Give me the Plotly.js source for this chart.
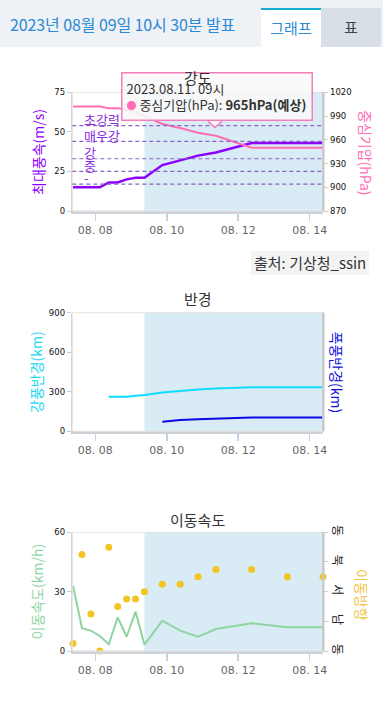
<!DOCTYPE html>
<html>
<head>
<meta charset="utf-8">
<script src="https://cdn.plot.ly/plotly-3.0.1.min.js"></script>
<style>
  html, body { margin: 0; padding: 0; background: #ffffff; width: 383px; height: 711px; overflow: hidden; }
  #chart { position: absolute; left: 0; top: 0; width: 383px; height: 711px; }
  #header { position: absolute; left: 0; top: 0; width: 383px; height: 47px; background: #eef1f6; z-index: 5;
            font-family: "Noto Sans CJK KR", "Noto Sans", sans-serif; }
  #htitle { position: absolute; left: 10px; top: 12px; font-size: 16px; color: #2b8ad3; white-space: nowrap; letter-spacing: -0.1px; }
  #tab1 { position: absolute; left: 261px; top: 8px; width: 60px; height: 39px; background: #ffffff; border-top: 2px solid #17aed0;
          box-sizing: border-box; text-align: center; line-height: 36px; font-size: 15px; color: #2b8ad3; }
  #tab2 { position: absolute; left: 321px; top: 8px; width: 60px; height: 39px; background: #d9dfe7;
          box-sizing: border-box; text-align: center; line-height: 38px; font-size: 15px; color: #444; }
  #source { position: absolute; left: 251px; top: 251px; padding: 0 3px; height: 24px; line-height: 24px; background: #f3f3f3;
            font-family: "Noto Sans CJK KR", sans-serif; font-size: 15px; color: #333; z-index: 5; white-space: nowrap; }
</style>
</head>
<body>
<div id="chart"></div>
<div id="header">
  <div id="htitle">2023년 08월 09일 10시 30분 발표</div>
  <div id="tab1">그래프</div>
  <div id="tab2">표</div>
</div>
<div id="source">출처: 기상청_ssin</div>
<script>
// ---- data ----
const times = ['2023-08-07 09:00','2023-08-07 15:00','2023-08-07 21:00','2023-08-08 03:00',
               '2023-08-08 09:00','2023-08-08 15:00','2023-08-08 21:00','2023-08-09 03:00',
               '2023-08-09 09:00','2023-08-09 21:00','2023-08-10 09:00','2023-08-10 21:00',
               '2023-08-11 09:00','2023-08-12 09:00','2023-08-13 09:00','2023-08-14 09:00'];
const windSpeed = [15,15,15,15,18,18,20,21,21,29,32,35,37,43,43,43];
const pressure  = [1002,1002,1002,1002,1000,1000,998,995,990,980,975,969,965,950,950,950];
const galeRadius  = [null,null,null,null,262,262,262,270,275,295,308,318,325,334,334,334];
const stormRadius = [null,null,null,null,null,null,null,null,null,73,86,91,96,104,104,104];
const moveSpeed = [33,11.5,10.3,7.6,3.4,17,7.2,19.9,3.2,15.3,10.3,7.2,11.1,14,12,12];
const moveDir   = [22.5,292.5,112.5,0,315,135,157.5,157.5,180,202.5,202.5,225,247.5,247.5,225,225];

const intensityLevels = [17,25,33,44,54];
const intensityLabels = ['-','중','강','매우강','초강력'];

const xTickVals = ['2023-08-08','2023-08-10','2023-08-12','2023-08-14'];
const xTickText = ['08. 08','08. 10','08. 12','08. 14'];
const dirTickVals = [0,90,180,270,360];
const dirTickText = ['동','남','서','북','동'];
const forecastStart = '2023-08-09 09:00';
const xRange = ['2023-08-07 08:30','2023-08-14 09:10'];

const tooltipTime = '2023.08.11. 09시';
const tooltipLabel = '중심기압(hPa)';
const tooltipValue = '965hPa(예상)';

// ---- helpers (page pixel -> paper) ----
const W = 383, H = 711;
const px = v => v / W;
const py = v => 1 - v / H;
const KR = '"Noto Sans CJK KR", "Noto Sans", sans-serif';
const NUM = '"DejaVu Sans", sans-serif';

const xDom = [px(72.3), px(323.3)];
const dom1 = [py(211), py(92.3)];
const dom2 = [py(431.3), py(312.7)];
const dom3 = [py(651), py(532.3)];

function xAxis(anchor) {
  return {
    domain: xDom, anchor: anchor, type: 'date', range: xRange,
    tickmode: 'array', tickvals: xTickVals, ticktext: xTickText,
    ticks: 'outside', ticklen: 7, tickwidth: 1.5, tickcolor: '#c3d3e3',
    showgrid: false, zeroline: false, showline: true, linecolor: '#cfd3d8', linewidth: 2.5,
    tickfont: {family: NUM, size: 11, color: '#666'}, fixedrange: true
  };
}
function yLeft(domain, anchor, range, tickvals) {
  return {
    domain: domain, anchor: anchor, range: range, tickmode: 'array', tickvals: tickvals,
    ticks: 'outside', ticklen: 4, tickcolor: '#cccccc',
    showgrid: false, zeroline: false, showline: true, linecolor: '#d4d4d4', linewidth: 1.5,
    tickfont: {family: NUM, size: 8.5, color: '#111'}, fixedrange: true
  };
}

const traces = [
  {x: times, y: windSpeed, xaxis: 'x', yaxis: 'y', type: 'scatter', mode: 'lines',
   line: {color: '#8c00ff', width: 2.5}, hoverinfo: 'skip'},
  {x: times, y: pressure, xaxis: 'x', yaxis: 'y2', type: 'scatter', mode: 'lines',
   line: {color: '#ff6eb4', width: 2}, hoverinfo: 'skip'},
  {x: times, y: galeRadius, xaxis: 'x2', yaxis: 'y3', type: 'scatter', mode: 'lines',
   line: {color: '#12dcff', width: 2}, hoverinfo: 'skip'},
  {x: times, y: stormRadius, xaxis: 'x2', yaxis: 'y4', type: 'scatter', mode: 'lines',
   line: {color: '#0a0ae6', width: 2}, hoverinfo: 'skip'},
  {x: times, y: moveSpeed, xaxis: 'x3', yaxis: 'y5', type: 'scatter', mode: 'lines',
   line: {color: '#8fd4a2', width: 2}, hoverinfo: 'skip'},
  {x: times, y: moveDir, xaxis: 'x3', yaxis: 'y6', type: 'scatter', mode: 'markers',
   marker: {color: '#f4c423', size: 7}, cliponaxis: false, hoverinfo: 'skip'}
];

const shapes = [];
const annotations = [];
[['x','y'],['x2','y3'],['x3','y5']].forEach(([xa, ya]) => {
  shapes.push({type: 'rect', xref: xa, yref: ya + ' domain', x0: forecastStart, x1: xRange[1], y0: 0, y1: 1,
               fillcolor: '#d9ebf5', line: {width: 0}, layer: 'below'});
  shapes.push({type: 'rect', xref: xa + ' domain', yref: ya + ' domain', x0: 0, x1: 1, y0: 0, y1: 1,
               line: {color: '#e3e3e3', width: 1}, layer: 'above'});
  shapes.push({type: 'line', xref: xa + ' domain', yref: ya + ' domain', x0: 1, x1: 1, y0: 0, y1: 1,
               line: {color: '#c9c9c9', width: 2.5}, layer: 'above'});
});
intensityLevels.forEach((lv, i) => {
  shapes.push({type: 'line', xref: 'x domain', yref: 'y', x0: 0, x1: 1, y0: lv, y1: lv,
               line: {color: '#8a63c4', width: 1.2, dash: '4px,3px'}, layer: 'above'});
  annotations.push({xref: 'x domain', yref: 'y', x: 0.04, y: lv + 4, xanchor: 'left', yanchor: 'middle',
                    text: intensityLabels[i], showarrow: false, font: {family: KR, size: 13, color: '#8a2be2'}});
});

// tooltip (drawn before the chart title so the title sits on top, as in the reference)
shapes.push({type: 'path', xref: 'paper', yref: 'paper',
  path: `M ${px(208)} ${py(121.4)} L ${px(215)} ${py(127.5)} L ${px(222)} ${py(121.4)}`,
  fillcolor: 'rgba(248,248,248,0.95)', line: {color: '#f47fb8', width: 1.5}, layer: 'above'});
annotations.push({xref: 'paper', yref: 'paper', x: px(121), y: py(72), xanchor: 'left', yanchor: 'top',
  width: 181, height: 38, align: 'left', valign: 'middle', showarrow: false, borderpad: 4,
  bgcolor: 'rgba(248,248,248,0.88)', bordercolor: '#f47fb8', borderwidth: 1.5,
  text: tooltipTime + '<br><span style="color:#ff6eb4;font-size:10px">●</span> ' + tooltipLabel + ': <b>' + tooltipValue + '</b>',
  font: {family: KR, size: 13, color: '#333'}});

// chart titles
[['강도', 77], ['반경', 298], ['이동속도', 519]].forEach(([t, y]) => {
  annotations.push({xref: 'paper', yref: 'paper', x: px(197.8), y: py(y), text: t, showarrow: false,
                    xanchor: 'center', yanchor: 'middle', font: {family: KR, size: 15, color: '#333'}});
});
// axis titles
[['최대풍속(m/s)', 38, 152, -90, '#8c00ff'],
 ['중심기압(hPa)', 366.5, 152.5, 90, '#ff6eb4'],
 ['강풍반경(km)', 36, 372, -90, '#22d6f4'],
 ['폭풍반경(km)', 336.5, 372, 90, '#1212e0'],
 ['이동속도(km/h)', 36.5, 592, -90, '#8fd4a2'],
 ['이동방향', 362, 595, 90, '#f2c440']].forEach(([t, x, y, a, c]) => {
  annotations.push({xref: 'paper', yref: 'paper', x: px(x), y: py(y), text: t, textangle: a, showarrow: false,
                    xanchor: 'center', yanchor: 'middle', font: {family: KR, size: 14, color: c}});
});

const layout = {
  width: W, height: H, margin: {l: 0, r: 0, t: 0, b: 0},
  paper_bgcolor: '#ffffff', plot_bgcolor: 'rgba(0,0,0,0)', showlegend: false,
  xaxis: xAxis('y'),
  yaxis: yLeft(dom1, 'x', [0, 75], [0, 25, 50, 75]),
  yaxis2: {overlaying: 'y', anchor: 'x', side: 'right', range: [870, 1020], tickmode: 'array',
           tickvals: [870, 900, 930, 960, 990, 1020], ticks: 'outside', ticklen: 4, tickcolor: '#cccccc',
           showgrid: false, zeroline: false, showline: false,
           tickfont: {family: NUM, size: 8.5, color: '#111'}, fixedrange: true},
  xaxis2: xAxis('y3'),
  yaxis3: yLeft(dom2, 'x2', [0, 900], [0, 300, 600, 900]),
  yaxis4: {overlaying: 'y3', anchor: 'x2', side: 'right', range: [0, 900], showticklabels: false,
           showgrid: false, zeroline: false, showline: false, ticks: '', fixedrange: true},
  xaxis3: xAxis('y5'),
  yaxis5: yLeft(dom3, 'x3', [0, 60], [0, 30, 60]),
  yaxis6: {overlaying: 'y5', anchor: 'x3', side: 'right', range: [0, 360], tickmode: 'array',
           tickvals: dirTickVals, ticktext: dirTickText, tickangle: 90,
           ticks: 'outside', ticklen: 4, tickcolor: '#cccccc',
           showgrid: false, zeroline: false, showline: false,
           tickfont: {family: KR, size: 12, color: '#222'}, fixedrange: true},
  shapes: shapes,
  annotations: annotations
};

Plotly.newPlot('chart', traces, layout, {staticPlot: true, displayModeBar: false});
</script>
</body>
</html>
